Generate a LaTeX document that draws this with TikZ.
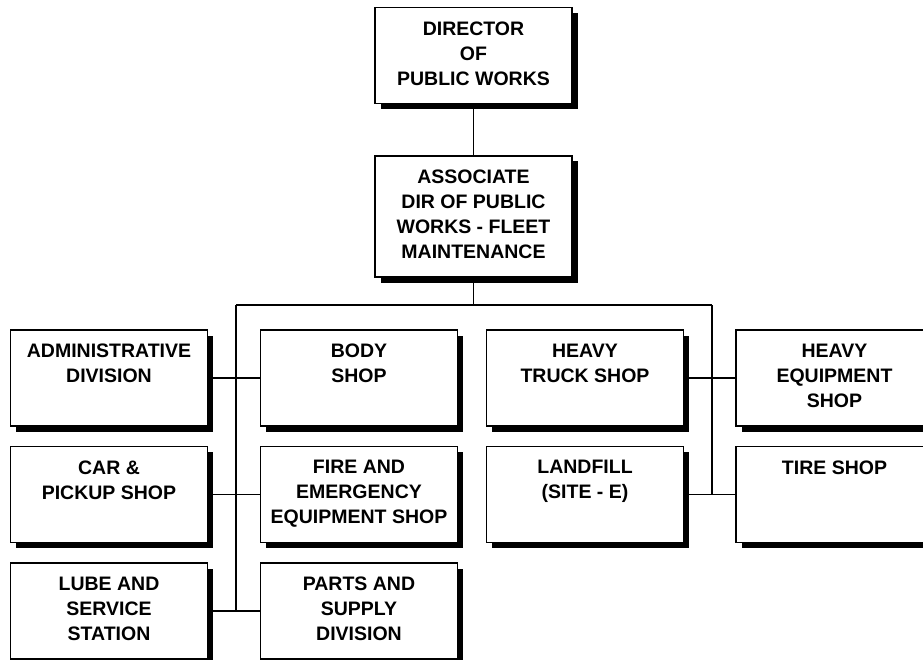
\documentclass[tikz,border=0pt]{standalone}
\usepackage{fontspec}
\setmainfont{Liberation Sans}
\usetikzlibrary{shadows}

\begin{document}
\begin{tikzpicture}[x=1pt,y=-1pt,line width=1.8pt]
        \tikzstyle{box}=[draw=black,fill=white,line width=1.8pt,inner sep=0pt,
            minimum width=197pt,minimum height=96pt,
            drop shadow={shadow xshift=5.5pt,shadow yshift=-5.5pt,fill=black,opacity=1}]
        \tikzstyle{txt}=[anchor=north,yshift=-14pt,inner sep=0pt,align=center,
            font=\fontsize{19.5}{25}\selectfont\bfseries]
        \useasboundingbox (0,0) rectangle (923,660);
        \clip (0,0) rectangle (923,660);
        % top of the chart
        \node [box] (dir) at (473.5,55.5) {};
        \node [txt] (dirtext) at (dir.north) {DIRECTOR\\OF\\PUBLIC WORKS};
        \node [box,minimum height=121pt] (assoc) at (473.5,216.5) {};
        \node [txt] (assoctext) at (assoc.north) {ASSOCIATE\\DIR OF PUBLIC\\WORKS - FLEET\\MAINTENANCE};
        % left group
        \node [box] (admin) at (109,378) {};
        \node [txt] (admintext) at (admin.north) {ADMINISTRATIVE\\DIVISION};
        \node [box] (body) at (359,378) {};
        \node [txt] (bodytext) at (body.north) {BODY\\SHOP};
        \node [box] (car) at (109,494.5) {};
        \node [txt] (cartext) at (car.north) {CAR \&\\PICKUP SHOP};
        \node [box] (fire) at (359,494.5) {};
        \node [txt] (firetext) at (fire.north) {FIRE AND\\EMERGENCY\\EQUIPMENT SHOP};
        \node [box] (lube) at (109,611) {};
        \node [txt] (lubetext) at (lube.north) {LUBE AND\\SERVICE\\STATION};
        \node [box] (parts) at (359,611) {};
        \node [txt] (partstext) at (parts.north) {PARTS AND\\SUPPLY\\DIVISION};
        % right group
        \node [box] (truck) at (585,378) {};
        \node [txt] (trucktext) at (truck.north) {HEAVY\\TRUCK SHOP};
        \node [box] (equip) at (834.5,378) {};
        \node [txt] (equiptext) at (equip.north) {HEAVY\\EQUIPMENT\\SHOP};
        \node [box] (landfill) at (585,494.5) {};
        \node [txt] (landfilltext) at (landfill.north) {LANDFILL\\(SITE - E)};
        \node [box] (tire) at (834.5,494.5) {};
        \node [txt] (tiretext) at (tire.north) {TIRE SHOP};
        % connectors
        \coordinate (bus) at (473.5,305);
        \coordinate (ltrunk) at (236,305);
        \coordinate (rtrunk) at (712,305);
        \draw (dir.south) -- (assoc.north);
        \draw (assoc.south) -- (bus);
        \draw (ltrunk) -- (rtrunk);
        \draw (ltrunk) -- (ltrunk |- lube.east);
        \draw (rtrunk) -- (rtrunk |- landfill.east);
        \draw (admin.east) -- (body.west);
        \draw (car.east) -- (fire.west);
        \draw (lube.east) -- (parts.west);
        \draw (truck.east) -- (equip.west);
        \draw (landfill.east) -- (tire.west);
\end{tikzpicture}
\end{document}
